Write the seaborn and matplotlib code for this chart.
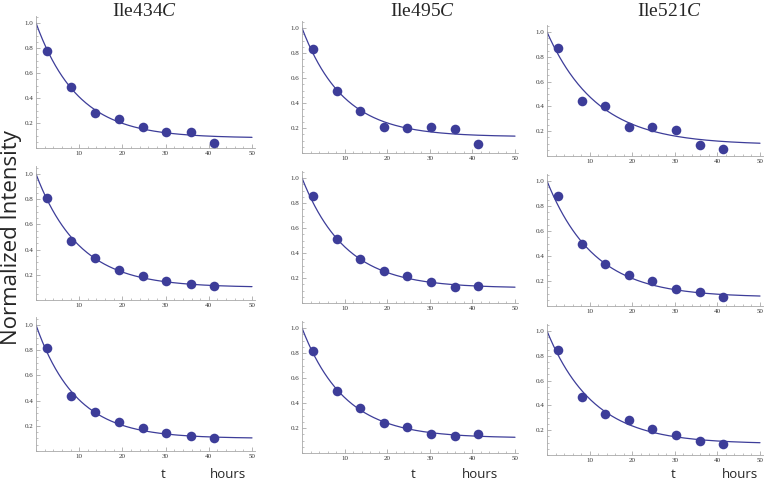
import numpy as np
import pandas as pd
import matplotlib
matplotlib.use("Agg")
import matplotlib.pyplot as plt
import seaborn as sns
from matplotlib.ticker import MultipleLocator

# sampling times (hours)
t_hours = [2.5, 8.1, 13.6, 19.2, 24.7, 30.2, 35.8, 41.3]

residues = ["Ile434", "Ile495", "Ile521"]

# normalized intensities, one list per panel (row, column)
ile434_r1 = [0.78, 0.49, 0.28, 0.23, 0.17, 0.13, 0.13, 0.04]
ile495_r1 = [0.83, 0.50, 0.34, 0.21, 0.20, 0.21, 0.19, 0.07]
ile521_r1 = [0.87, 0.44, 0.40, 0.23, 0.23, 0.21, 0.09, 0.06]
ile434_r2 = [0.81, 0.47, 0.33, 0.24, 0.19, 0.15, 0.13, 0.11]
ile495_r2 = [0.86, 0.51, 0.35, 0.26, 0.22, 0.17, 0.13, 0.14]
ile521_r2 = [0.88, 0.50, 0.34, 0.25, 0.20, 0.14, 0.11, 0.07]
ile434_r3 = [0.82, 0.44, 0.31, 0.23, 0.18, 0.14, 0.12, 0.10]
ile495_r3 = [0.82, 0.50, 0.36, 0.24, 0.21, 0.15, 0.14, 0.15]
ile521_r3 = [0.85, 0.47, 0.33, 0.28, 0.21, 0.16, 0.11, 0.09]

# fitted decay I(t) = c + (1 - c) exp(-k t)
fit_plateau = [[0.08, 0.13, 0.09], [0.10, 0.12, 0.07], [0.10, 0.12, 0.09]]
fit_rate = [[0.103, 0.103, 0.085], [0.100, 0.098, 0.091], [0.108, 0.100, 0.092]]

panels = [[ile434_r1, ile495_r1, ile521_r1],
          [ile434_r2, ile495_r2, ile521_r2],
          [ile434_r3, ile495_r3, ile521_r3]]

# pixel layout of each panel (origin and x=50 / y=1 positions)
W, H = 766, 483
x_orig = [36, 302, 547]
x_end = [252, 515, 760]
y_orig = [[148, 153, 156], [300, 303, 306], [451, 453, 455]]
y_top = [[23, 28, 32], [174, 178, 181], [325, 328, 331]]

navy = "#3d3d99"
axis_grey = "#a8a8a8"

sns.set_style("white")
plt.rcParams["font.family"] = ["Liberation Serif", "DejaVu Serif"]
plt.rcParams["mathtext.fontset"] = "custom"
plt.rcParams["mathtext.rm"] = "Liberation Serif"
plt.rcParams["mathtext.it"] = "Liberation Serif:italic"

fig = plt.figure(figsize=(W / 100, H / 100), dpi=100)

for r in range(3):
    for c in range(3):
        x0, x1 = x_orig[c], x_end[c]
        y0, y1 = y_orig[r][c], y_top[r][c]
        wpx = (x1 - x0) * 50.8 / 50
        hpx = (y0 - y1) * 1.06
        ax = fig.add_axes([x0 / W, (H - y0) / H, wpx / W, hpx / H])

        df = pd.DataFrame({"t": t_hours, "I": panels[r][c]})
        tt = np.linspace(0, 50, 200)
        cc, kk = fit_plateau[r][c], fit_rate[r][c]
        fit = pd.DataFrame({"t": tt, "I": cc + (1 - cc) * np.exp(-kk * tt)})

        sns.lineplot(data=fit, x="t", y="I", ax=ax, color=navy, lw=0.9)
        sns.scatterplot(data=df, x="t", y="I", ax=ax, color=navy, s=48,
                        edgecolor=navy, linewidth=0, zorder=3)

        ax.set_xlim(0, 50.8)
        ax.set_ylim(0, 1.06)
        ax.set_xlabel("")
        ax.set_ylabel("")
        for side in ["top", "right"]:
            ax.spines[side].set_visible(False)
        for side in ["left", "bottom"]:
            ax.spines[side].set_color(axis_grey)
            ax.spines[side].set_linewidth(0.6)
        ax.set_xticks([10, 20, 30, 40, 50])
        ax.set_yticks([0.2, 0.4, 0.6, 0.8, 1.0])
        ax.set_yticklabels(["0.2", "0.4", "0.6", "0.8", "1.0"])
        ax.xaxis.set_minor_locator(MultipleLocator(2))
        ax.yaxis.set_minor_locator(MultipleLocator(0.05))
        ax.tick_params(which="both", bottom=True, left=True, direction="in")
        ax.tick_params(which="major", length=3, width=0.6,
                       color=axis_grey, labelsize=5, pad=2, labelcolor="#333333")
        ax.tick_params(which="minor", length=1.5, width=0.5, color=axis_grey)
        ax.patch.set_alpha(0)

# column titles
title_x = [145, 423, 670]
for name, tx in zip(residues, title_x):
    fig.text(tx / W, 1 - 11 / H, name + r"$\mathit{C}$", ha="center", va="center",
             fontsize=14)

fig.text(12 / W, 1 - 238 / H, "Normalized Intensity", rotation=90,
         ha="center", va="center", fontsize=16, family=["Open Sans", "DejaVu Sans"])

t_x = [163, 413, 673]
h_x = [228, 480, 740]
for a, b in zip(t_x, h_x):
    fig.text(a / W, 1 - 475 / H, "t", ha="center", va="center", fontsize=9.5,
             family=["Open Sans", "DejaVu Sans"])
    fig.text(b / W, 1 - 475 / H, "hours", ha="center", va="center", fontsize=9.5,
             family=["Open Sans", "DejaVu Sans"])

fig.savefig("out.png", dpi=100)
